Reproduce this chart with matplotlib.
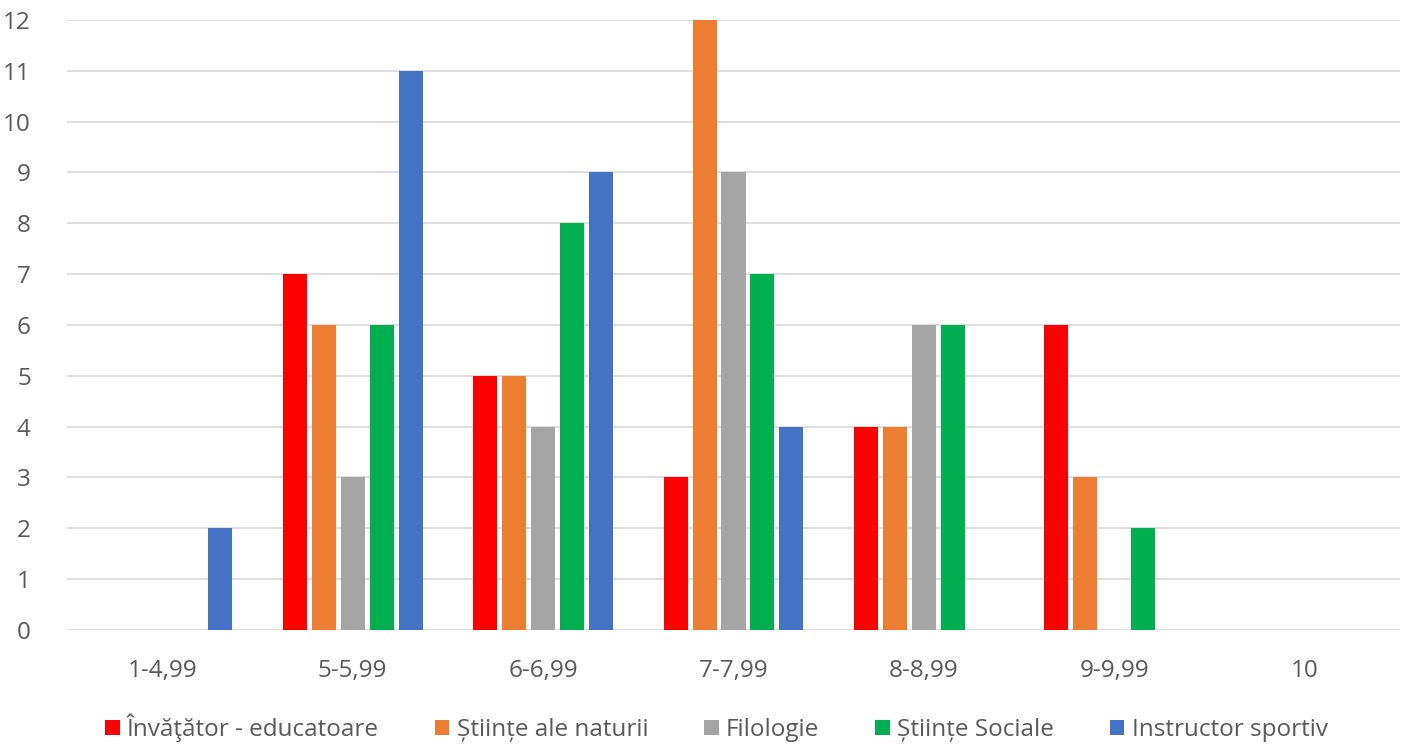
import matplotlib
matplotlib.use("Agg")
import matplotlib.pyplot as plt
import numpy as np

categories = ["1-4,99", "5-5,99", "6-6,99", "7-7,99", "8-8,99", "9-9,99", "10"]
series_names = ["Învăţător - educatoare", "Științe ale naturii", "Filologie", "Științe Sociale", "Instructor sportiv"]
invatator = [0, 7, 5, 3, 4, 6, 0]
stiinte_naturii = [0, 6, 5, 12, 4, 3, 0]
filologie = [0, 3, 4, 9, 6, 0, 0]
stiinte_sociale = [0, 6, 8, 7, 6, 2, 0]
instructor = [2, 11, 9, 4, 0, 0, 0]
colors = ["#FF0000", "#ED7D31", "#A5A5A5", "#00B050", "#4472C4"]
yticks = list(range(0, 13))

plt.rcParams['font.family'] = ['Open Sans', 'DejaVu Sans']

fig = plt.figure(figsize=(14.13, 7.46), dpi=100)
ax = fig.add_axes([0.0474, 0.1555, 0.9434, 0.8177])

data = [invatator, stiinte_naturii, filologie, stiinte_sociale, instructor]
x = np.arange(len(categories))
slot = 0.152
for i, (vals, name, c) in enumerate(zip(data, series_names, colors)):
    ax.bar(x + (i - 2) * slot, vals, width=slot * 0.83, color=c,
           linewidth=0, label=name, zorder=3)

ax.set_xlim(-0.5, len(categories) - 0.5)
ax.set_ylim(0, 12)
ax.set_yticks(yticks)
ax.set_xticks(x)
ax.set_xticklabels(categories)
ax.grid(axis="y", color="#D9D9D9", linewidth=1.2, zorder=0)
for s in ax.spines.values():
    s.set_visible(False)
ax.tick_params(axis="both", length=0, labelsize=17.5, colors="#595959")
ax.tick_params(axis="x", pad=21)
ax.tick_params(axis="y", pad=26)

leg = fig.legend(loc="lower center", bbox_to_anchor=(0.507, -0.024), ncol=5, frameon=False,
                 fontsize=17.5, handlelength=0.6, handleheight=0.6, handletextpad=0.3,
                 columnspacing=2.3, labelcolor="#595959")

fig.savefig("out.png", dpi=100)
